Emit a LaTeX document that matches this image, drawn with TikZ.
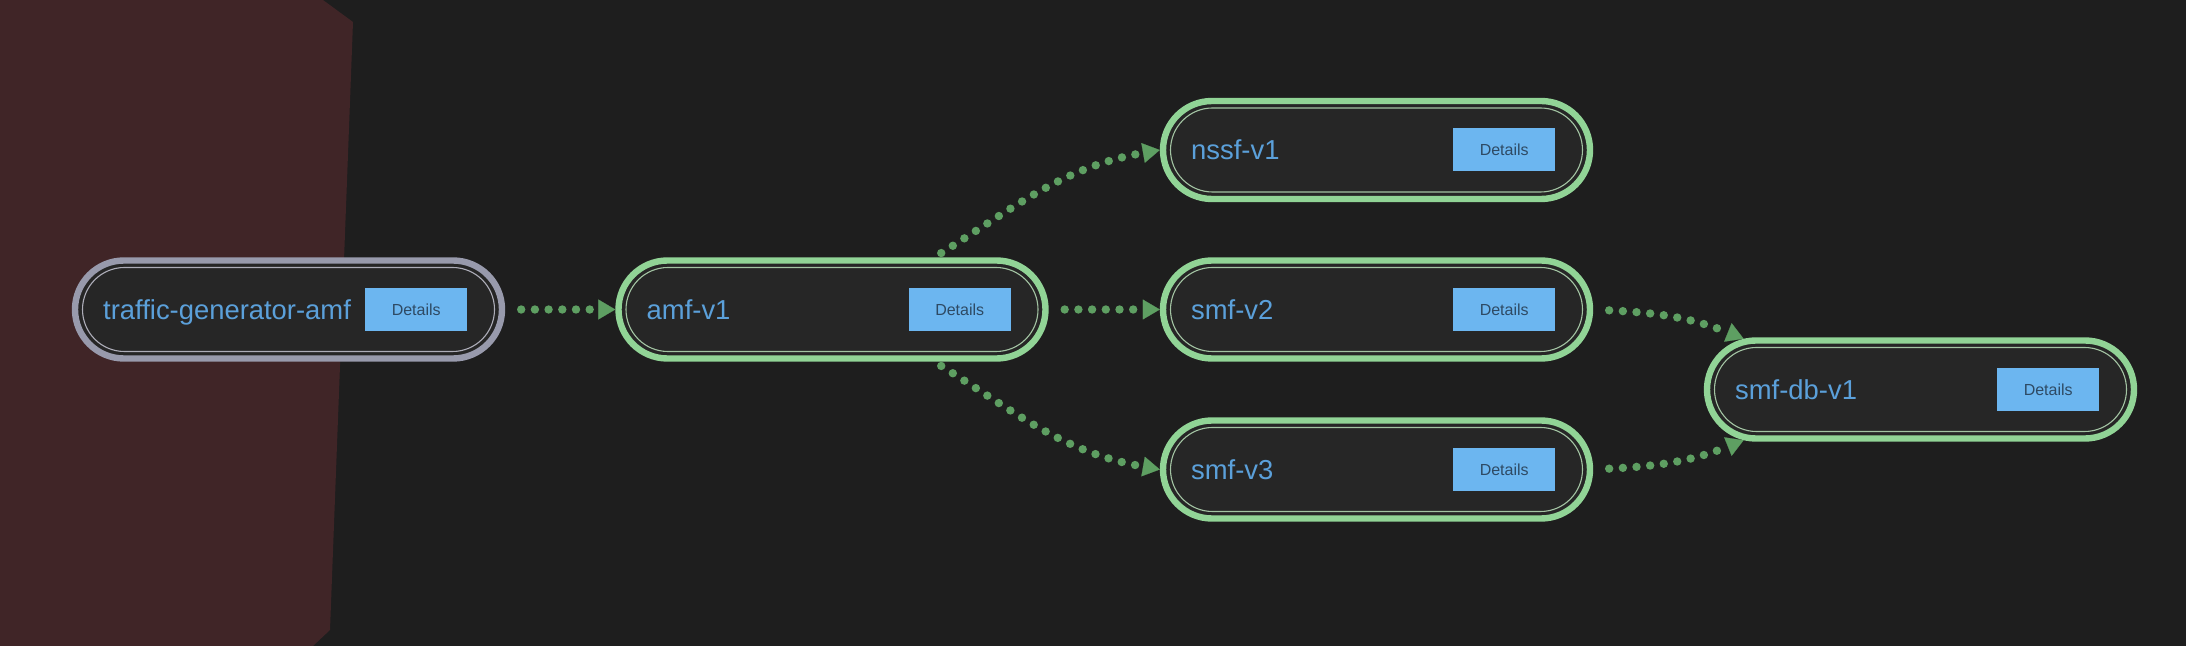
\documentclass[tikz,border=0pt]{standalone}
\usepackage{fontspec}
\setmainfont{Liberation Sans}
\usetikzlibrary{shapes.misc,arrows.meta,calc}
\definecolor{bgdark}{HTML}{1E1E1E}
\definecolor{redzone}{HTML}{402527}
\definecolor{nodefill}{HTML}{262626}
\definecolor{ringgreen}{HTML}{91D496}
\definecolor{innergreen}{HTML}{A3C4A3}
\definecolor{ringgrey}{HTML}{989AAC}
\definecolor{innergrey}{HTML}{ADADB8}
\definecolor{lblblue}{HTML}{5BA0DA}
\definecolor{btnblue}{HTML}{6CB6F0}
\definecolor{btntext}{HTML}{2E4A64}
\definecolor{edgegreen}{HTML}{5E9F62}
\tikzset{
  svc/.style={rounded rectangle, minimum width=213.5pt, minimum height=49pt,
    inner sep=0pt, line width=3.2pt, fill=nodefill},
  svcin/.style={rounded rectangle, minimum width=206pt, minimum height=42pt,
    inner sep=0pt, line width=0.55pt},
  lbl/.style={inner sep=0pt, text=lblblue, font=\fontsize{13.7}{16}\selectfont},
  btn/.style={fill=btnblue, minimum width=51pt, minimum height=21.5pt, inner sep=0pt,
    text=btntext, font=\fontsize{8}{9.6}\selectfont},
  flow/.style={draw=edgegreen, line width=4.2pt, line cap=round,
    dash pattern=on 0pt off 6.85pt,
    -{Triangle[length=8.5pt,width=10pt,line width=0.1pt,fill=edgegreen]},
    shorten <=8pt},
}
\newcommand{\svcnode}[6]{%
  \node[svc, draw=#5] (#1) at (#2,-#3) {};
  \node[svcin, draw=#6] (#1-in) at (#1.center) {};
  \node[lbl, anchor=base west] (#1-lbl) at ($(#1.west)+(31,-10)$) {#4};
  \node[btn] (#1-btn) at ($(#1.east)+(-89,0)$) {Details};
}
\begin{document}
\begin{tikzpicture}[x=0.5pt,y=0.5pt]
\useasboundingbox (0,0) rectangle (2186,-646);
\fill[bgdark] (0,0) rectangle (2186,-646);
\fill[redzone] (0,0) -- (323,0) -- (353,-22) -- (330,-630) -- (313,-646) -- (0,-646) -- cycle;

\svcnode{tg}{288.5}{309.5}{traffic-generator-amf}{ringgrey}{innergrey}
\svcnode{amf}{832}{309.5}{amf-v1}{ringgreen}{innergreen}
\svcnode{nssf}{1376.5}{150}{nssf-v1}{ringgreen}{innergreen}
\svcnode{smf2}{1376.5}{309.5}{smf-v2}{ringgreen}{innergreen}
\svcnode{smf3}{1376.5}{469.5}{smf-v3}{ringgreen}{innergreen}
\svcnode{db}{1920.5}{389.5}{smf-db-v1}{ringgreen}{innergreen}

\draw[flow] (tg) -- (amf);
\draw[flow] (amf) -- (smf2);
\draw[flow, shorten <=4pt] (amf.27) to[out=32, in=190] (nssf.west);
\draw[flow, shorten <=4pt] (amf.-27) to[out=-32, in=170] (smf3.west);
\draw[flow] (smf2.east) to[out=-3, in=158] (db.164);
\draw[flow] (smf3.east) to[out=3, in=202] (db.196);
\end{tikzpicture}
\end{document}
